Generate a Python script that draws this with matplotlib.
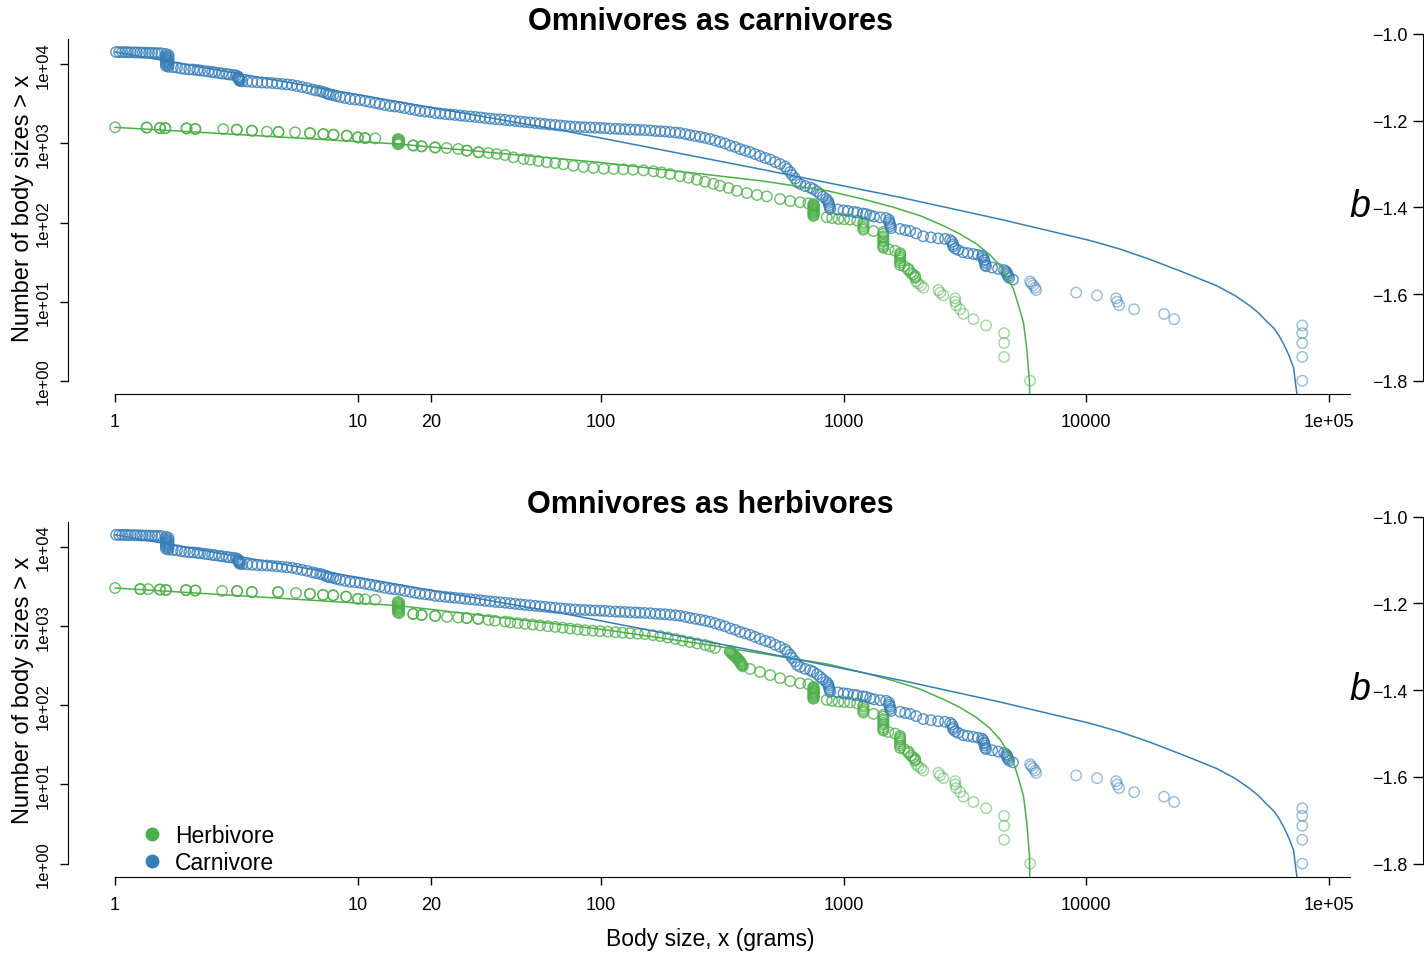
import matplotlib
matplotlib.use("Agg")
import matplotlib.pyplot as plt
import numpy as np
from matplotlib.lines import Line2D

plt.rcParams["font.family"] = ["Liberation Sans", "DejaVu Sans"]

GREEN = "#4DAF4A"
BLUE = "#377EB8"

# ----------------------------------------------------------
# Carnivores: (body size in grams, number of body sizes > x)
# ----------------------------------------------------------
carnivores = [
    (1.01, 14300), (1.04, 14280), (1.07, 14260), (1.10, 14240), (1.13, 14200),
    (1.16, 14170), (1.20, 14140), (1.23, 14110), (1.27, 14050), (1.30, 14020),
    (1.34, 13990), (1.38, 13960), (1.42, 13930), (1.46, 13850), (1.50, 13820),
    (1.55, 13790),
    (1.62, 13500), (1.66, 13100), (1.62, 12700), (1.66, 12300), (1.62, 12000),
    (1.66, 11600), (1.62, 11300), (1.66, 11000), (1.62, 10700), (1.66, 10400),
    (1.62, 10100), (1.66, 9800), (1.62, 9520), (1.66, 9300),
    (1.73, 9200), (1.80, 9120), (1.87, 8860), (1.94, 8730), (2.02, 8600),
    (2.10, 8580), (2.18, 8470), (2.24, 8350), (2.33, 8230), (2.42, 8110),
    (2.51, 7990), (2.58, 7880), (2.68, 7760), (2.76, 7650), (2.87, 7540),
    (2.95, 7430), (3.06, 7330), (3.15, 7220),
    (3.21, 7010), (3.21, 6850), (3.23, 6710), (3.23, 6570), (3.25, 6430),
    (3.25, 6290), (3.27, 6150),
    (3.34, 6100), (3.50, 6060), (3.67, 5970), (3.85, 5930), (4.03, 5890),
    (4.23, 5840), (4.43, 5800), (4.65, 5720), (4.87, 5640), (5.11, 5560),
    (5.36, 5470), (5.62, 5320), (5.89, 5160), (6.18, 5010), (6.48, 4800),
    (6.73, 4670), (6.99, 4590), (7.19, 4460), (7.40, 4330), (7.54, 4210),
    (7.68, 4150), (7.91, 4090), (8.13, 3970), (8.45, 3860), (8.86, 3750),
    (9.29, 3640), (9.74, 3590), (10.2, 3540), (10.7, 3440), (11.2, 3340),
    (11.8, 3240), (12.3, 3150), (12.9, 3060), (13.6, 2970), (14.2, 2930),
    (14.9, 2880), (15.6, 2800), (16.4, 2720), (17.2, 2650), (18.0, 2570),
    (18.9, 2530), (19.8, 2500), (20.8, 2420), (21.8, 2390), (22.9, 2350),
    (24.0, 2320), (25.1, 2290), (26.4, 2250), (27.6, 2220), (29.0, 2190),
    (30.4, 2160), (31.9, 2130), (33.4, 2090), (35.0, 2060), (36.7, 2030),
    (38.5, 2010), (40.4, 1980), (42.4, 1950), (44.4, 1920), (46.6, 1890),
    (48.8, 1860), (51.2, 1840), (53.7, 1810), (56.3, 1785), (59.0, 1760),
    (61.9, 1730), (64.9, 1710), (68.1, 1685), (71.4, 1660), (74.8, 1640),
    (78.5, 1625), (82.3, 1610), (86.2, 1600), (90.4, 1590), (94.8, 1580),
    (99.4, 1570), (104, 1560), (109, 1540), (115, 1530), (120, 1520),
    (126, 1510), (132, 1500), (139, 1490), (145, 1480), (152, 1470),
    (160, 1460), (168, 1435), (176, 1425), (184, 1415), (193, 1393),
    (203, 1373), (212, 1353), (223, 1314), (233, 1276), (245, 1241),
    (257, 1210), (269, 1175), (282, 1137), (296, 1088), (310, 1043),
    (325, 997), (341, 940), (358, 901), (375, 849), (393, 813), (412, 778),
    (432, 734), (453, 693), (476, 654), (499, 626), (523, 582), (548, 549),
    (575, 511), (586, 474), (603, 435), (614, 398), (632, 360), (644, 325),
    (663, 307), (695, 289), (729, 277), (750, 265), (778, 247), (801, 229),
    (822, 213), (848, 198),
    (864, 187), (868, 177), (872, 166), (877, 157), (881, 148),
    (948, 146), (1000, 142), (1043, 140), (1100, 136), (1138, 134),
    (1200, 130), (1238, 128), (1287, 123), (1336, 119), (1415, 116),
    (1497, 114),
    (1541, 108), (1541, 101), (1556, 96), (1556, 90), (1570, 85),
    (1710, 83), (1795, 80), (1881, 78), (1990, 73), (2128, 67), (2290, 65),
    (2454, 63), (2620, 62), (2748, 60), (2799, 57), (2827, 53), (2827, 50),
    (2884, 47), (2965, 45), (3110, 42), (3250, 41), (3420, 40), (3580, 39),
    (3723, 38), (3757, 36), (3795, 34), (3795, 33), (3830, 31), (3830, 29),
    (3866, 28), (4093, 27), (4333, 26), (4585, 25), (4675, 24), (4720, 23),
    (4720, 22), (4765, 21), (4810, 20), (4990, 19), (5870, 18), (5930, 17),
    (6040, 16), (6155, 15), (6210, 14), (9080, 13), (11070, 12),
    (13270, 11), (13400, 10), (13650, 9), (15730, 8), (20900, 7),
    (23000, 6), (77500, 5), (77500, 4), (77500, 3), (77500, 2), (77500, 1),
]

# shared tail of the herbivore distribution (same in both panels)
herb_tail = [
    (751, 171), (755, 166), (751, 162), (755, 157), (751, 152), (755, 148),
    (751, 144), (755, 140), (751, 136), (755, 132), (751, 128), (755, 124),
    (751, 121),
    (853, 117), (898, 114), (953, 111), (1006, 110), (1064, 109), (1138, 106),
    (1208, 101), (1208, 96), (1208, 90), (1208, 85), (1208, 81),
    (1328, 78),
    (1459, 76), (1459, 72), (1459, 67), (1459, 64), (1459, 60), (1459, 57),
    (1459, 53), (1459, 50), (1459, 48),
    (1531, 46), (1632, 44),
    (1711, 41), (1711, 39), (1711, 37), (1711, 35), (1711, 33), (1711, 31),
    (1711, 29),
    (1777, 28), (1851, 26), (1851, 25), (1898, 23), (1935, 22), (1972, 21),
    (1972, 20), (1991, 18), (2029, 17), (2087, 16), (2133, 15), (2461, 14),
    (2500, 13), (2578, 12), (2884, 11), (2884, 10), (2910, 9), (3020, 8),
    (3118, 7), (3428, 6), (3866, 5), (4585, 4), (4585, 3), (4585, 2),
    (5870, 1),
]

# Herbivores, top panel (omnivores counted as carnivores)
herbivores_top = [
    (1.0, 1600), (1.35, 1590), (1.35, 1585), (1.53, 1570), (1.53, 1565),
    (1.61, 1560), (1.61, 1555), (1.97, 1550), (1.97, 1545), (2.14, 1525),
    (2.14, 1520), (2.79, 1515), (3.17, 1495), (3.17, 1490), (3.66, 1450),
    (3.66, 1445), (4.22, 1405), (4.71, 1400), (4.71, 1397), (5.51, 1380),
    (6.35, 1352), (6.35, 1348), (7.21, 1315), (7.21, 1310), (7.93, 1290),
    (7.93, 1286), (9.0, 1252), (9.0, 1248), (10.0, 1195), (10.0, 1190),
    (10.7, 1170), (10.7, 1166), (11.8, 1158),
    (14.6, 1137), (14.8, 1112), (14.6, 1080), (14.8, 1052), (14.6, 1025),
    (14.8, 997), (14.6, 973),
    (16.9, 945), (16.9, 940), (18.3, 920), (18.3, 916), (20.8, 892),
    (20.8, 888), (23.2, 874), (25.9, 850), (28.1, 812), (28.1, 808),
    (31.4, 775), (31.4, 771), (34.5, 756), (37.3, 734), (40.4, 713),
    (43.7, 667), (48.1, 635), (51.2, 622), (55.4, 600), (60.0, 577),
    (64.9, 565), (70.2, 544), (77.2, 522), (84.9, 503), (93.3, 489),
    (103, 479), (113, 475), (124, 471), (136, 465), (150, 457), (165, 444),
    (178, 431), (193, 410), (212, 384), (230, 368), (249, 347), (269, 328),
    (291, 309), (310, 292), (336, 273), (364, 252), (400, 236), (440, 223),
    (483, 214), (548, 198), (603, 187), (663, 180), (716, 175),
] + herb_tail

# Herbivores, bottom panel (omnivores counted as herbivores)
herbivores_bot = [
    (1.0, 3040), (1.27, 2950), (1.27, 2945), (1.37, 2940), (1.53, 2910),
    (1.53, 2905), (1.62, 2870), (1.62, 2865), (1.96, 2860), (1.96, 2855),
    (2.14, 2830), (2.14, 2825), (2.76, 2790), (3.18, 2780), (3.18, 2775),
    (3.66, 2710), (3.66, 2705), (4.69, 2700), (4.69, 2695), (5.56, 2630),
    (6.35, 2570), (6.35, 2565), (7.19, 2490), (7.19, 2485), (7.91, 2460),
    (7.91, 2455), (8.94, 2370), (8.94, 2365), (10.0, 2220), (10.0, 2215),
    (10.7, 2190), (11.8, 2160),
    (14.6, 2030), (14.8, 1980), (14.6, 1920), (14.8, 1860), (14.6, 1800),
    (14.8, 1750), (14.6, 1700), (14.8, 1650), (14.6, 1600), (14.8, 1550),
    (14.6, 1500), (14.8, 1460),
    (16.9, 1430), (16.9, 1425), (18.3, 1390), (18.3, 1385), (20.8, 1350),
    (20.8, 1345), (23.3, 1310), (25.9, 1290), (28.1, 1270), (28.1, 1265),
    (31.3, 1240), (31.3, 1235), (34.5, 1200), (36.7, 1170), (40.4, 1145),
    (42.4, 1120), (45.5, 1095), (48.8, 1070), (52.5, 1048), (56.3, 1025),
    (60.5, 1000), (64.9, 980), (69.7, 958), (74.8, 935), (80.3, 912),
    (86.2, 890), (92.6, 877), (99.4, 865), (107, 852), (115, 840),
    (123, 827), (132, 815), (142, 805), (152, 795), (164, 772), (176, 750),
    (189, 720), (203, 690), (217, 660), (233, 630), (250, 605), (269, 580),
    (282, 555), (296, 530),
    (341, 488), (341, 475), (345, 462), (348, 449), (352, 436), (355, 424),
    (358, 412), (362, 401), (365, 390), (368, 379), (372, 368), (375, 358),
    (375, 348), (378, 338), (380, 329), (383, 320), (385, 311),
    (412, 288), (453, 264), (499, 241), (548, 220), (603, 202), (663, 190),
    (716, 185),
] + herb_tail

# ----------------------------------------------------------
# Fitted curves
# ----------------------------------------------------------
carnivore_fit = [
    (1.0, 14300), (70.2, 1448), (453, 474), (1711, 208), (4416, 110),
    (10370, 59.2), (13750, 46.2), (18320, 34.1), (25100, 23.5),
    (34400, 15.9), (41020, 11.9), (47100, 8.87), (51000, 7.28),
    (55000, 5.73), (59070, 4.64), (62200, 3.71), (65260, 2.83),
    (68400, 2.07), (71420, 1.45), (72600, 0.95), (73700, 0.68),
    (75200, 0.4),
]

herbivore_fit_top = [
    (1.0, 1597), (14.7, 983), (99.5, 574), (273.5, 404), (453, 338),
    (853, 253), (1171, 202), (1605, 156), (2068, 122), (2578, 91),
    (3020, 71.6), (3530, 53.5), (4016, 38.8), (4416, 28.4), (4707, 20.6),
    (5010, 14.4), (5253, 9.06), (5508, 5.47), (5686, 2.52), (5835, 0.95),
    (5860, 0.3),
]

herbivore_fit_bot = [
    (1.0, 3040), (14.7, 1820), (99.5, 920), (273.5, 585), (632, 386),
    (853, 334), (1171, 265), (1605, 205), (2068, 160), (2578, 119),
    (3020, 94), (3530, 70), (4016, 51), (4416, 37), (4707, 27),
    (5010, 19), (5253, 12), (5508, 7.2), (5686, 3.3), (5835, 1.25),
    (5860, 0.3),
]

x_ticks = [1, 10, 20, 100, 1000, 10000, 100000]
x_tick_labels = ["1", "10", "20", "100", "1000", "10000", "1e+05"]
y_ticks = [1, 10, 100, 1000, 10000]
y_tick_labels = ["1e+00", "1e+01", "1e+02", "1e+03", "1e+04"]
b_ticks = [-1.8, -1.6, -1.4, -1.2, -1.0]

X_LIM = (0.637, 121300)
Y_LIM = (0.682, 20940)

W, H = 1424, 954


def fig_box(left, top, right, bottom):
    """Pixel box -> figure fraction rectangle."""
    return [left / W, 1 - bottom / H, (right - left) / W, (bottom - top) / H]


def draw_points(ax, points, color):
    """Open circles; the crowded upper part of each curve stacks many
    species on top of each other, so it is drawn darker."""
    pts = np.array(points, dtype=float)
    crowded = pts[:, 1] >= 19
    for mask, alpha in ((~crowded, 0.5), (crowded, 0.8)):
        ax.scatter(pts[mask, 0], pts[mask, 1], s=56, facecolors="none",
                   edgecolors=color, linewidths=1.05, alpha=alpha,
                   clip_on=False)


def draw_fit(ax, points, color):
    pts = np.array(points, dtype=float)
    ax.plot(pts[:, 0], pts[:, 1], color=color, lw=1.1)


def draw_panel(fig, top_px, herbivores, herbivore_fit, title):

    ax = fig.add_axes(fig_box(67.5, top_px + 39.9, 1349.5, top_px + 394.9))
    ax.set_xscale("log")
    ax.set_yscale("log")
    ax.set_xlim(*X_LIM)
    ax.set_ylim(*Y_LIM)

    draw_points(ax, herbivores, GREEN)
    draw_points(ax, carnivores, BLUE)
    draw_fit(ax, herbivore_fit, GREEN)
    draw_fit(ax, carnivore_fit, BLUE)

    for side in ("top", "right"):
        ax.spines[side].set_visible(False)
    ax.spines["left"].set_bounds(1, Y_LIM[1])
    ax.spines["bottom"].set_bounds(1, X_LIM[1])

    ax.set_xticks(x_ticks)
    ax.set_xticklabels(x_tick_labels)
    ax.set_yticks(y_ticks)
    ax.set_yticklabels(y_tick_labels, rotation=90, va="center")
    ax.minorticks_off()
    ax.tick_params(axis="x", length=6, width=1, labelsize=13, pad=8)
    ax.tick_params(axis="y", length=6, width=1, labelsize=12, pad=6)

    fig.text(710 / W, 1 - (top_px + 22) / H, title, ha="center",
             va="center", fontsize=22, fontweight="bold")
    fig.text(23 / W, 1 - (top_px + 208) / H, "Number of body sizes > x",
             rotation=90, ha="center", va="center", fontsize=17)

    # secondary axis for the exponent b
    bax = fig.add_axes(fig_box(1423, top_px + 35, 1423.1, top_px + 381.7))
    bax.set_ylim(-1.8, -1.0)
    bax.patch.set_visible(False)
    for side in ("top", "right", "bottom"):
        bax.spines[side].set_visible(False)
    bax.spines["left"].set_bounds(-1.8, -1.0)
    bax.set_xticks([])
    bax.set_yticks(b_ticks)
    bax.set_yticklabels([f"{t:.1f}".replace("-", "\u2212") for t in b_ticks])
    bax.tick_params(axis="y", length=7, width=1, labelsize=13, pad=4)
    fig.text(1360 / W, 1 - (top_px + 207) / H, "b", style="italic",
             ha="center", va="center", fontsize=27)

    return ax


fig = plt.figure(figsize=(W / 100, H / 100), dpi=100)

draw_panel(fig, 0, herbivores_top, herbivore_fit_top,
           "Omnivores as carnivores")
ax_bot = draw_panel(fig, 482.8, herbivores_bot, herbivore_fit_bot,
                    "Omnivores as herbivores")

fig.text(710 / W, 1 - 940 / H, "Body size, x (grams)", ha="center",
         va="center", fontsize=16.5)

handles = [
    Line2D([], [], ls="none", marker="o", ms=9, color=GREEN),
    Line2D([], [], ls="none", marker="o", ms=9, color=BLUE),
]
ax_bot.legend(handles, ["Herbivore", "Carnivore"], loc="center left",
              bbox_to_anchor=(143 / W, 1 - 850 / H),
              bbox_transform=fig.transFigure, frameon=False, fontsize=16.5,
              handlelength=0.8, handletextpad=0.6, labelspacing=0.15,
              borderpad=0, borderaxespad=0)

fig.savefig("out.png", dpi=100)
